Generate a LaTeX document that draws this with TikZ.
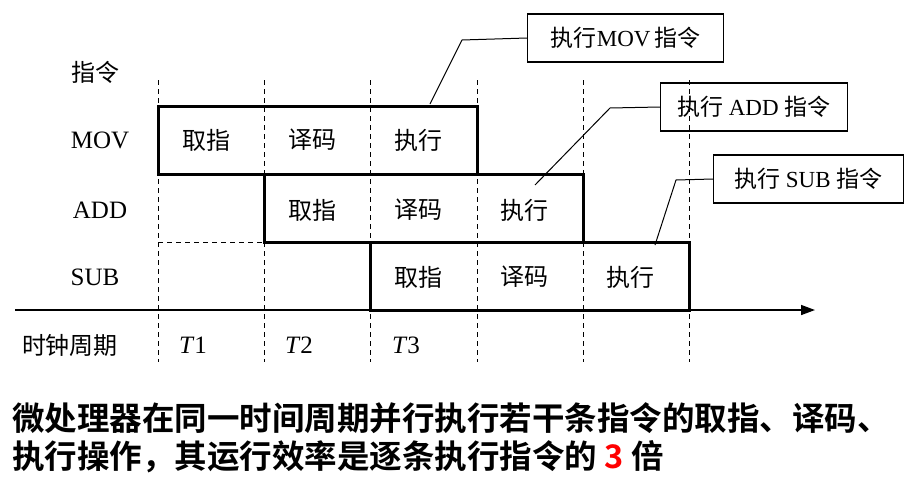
\documentclass[tikz,border=0pt]{standalone}
\usepackage{fontspec}
\setmainfont{Liberation Serif}
\newfontfamily\cjk{Noto Sans CJK SC}
\newfontfamily\cjkb{Noto Sans CJK SC Bold}
\usetikzlibrary{arrows.meta}
\begin{document}
\begin{tikzpicture}[x=1pt,y=-1pt,
  lab/.style={font=\cjk\fontsize{24}{28}\selectfont,inner sep=0pt},
  lat/.style={font=\rmfamily\fontsize{25}{28}\selectfont,inner sep=0pt},
  box/.style={draw,line width=3pt},
  call/.style={draw,line width=1.2pt,font=\cjk\fontsize{23}{26}\selectfont,inner sep=2pt,minimum height=48},
  grid/.style={dash pattern=on 5pt off 4pt,line width=1pt}]
\useasboundingbox (0,0) rectangle (911,482);
\foreach \x in {158,264,370,477,583,689} \draw[grid] (\x,80) -- (\x,362);
\draw[grid] (158,242) -- (264,242);
\draw[box] (158,106) rectangle (477,174);
\draw[box] (264,174) rectangle (583,242);
\draw[box] (370,242) rectangle (689,310);
\draw[line width=1.5pt,-{Triangle[length=14pt,width=10pt]}] (15,310) -- (815,310);
\node[lab] at (95,72) {指令};
\node[lat] at (100,140) {MOV};
\node[lat] at (100,210) {ADD};
\node[lat] at (95,277) {SUB};
\node[lab] at (70,345) {时钟周期};
\node[lat] at (193,345) {\textit{T}1};
\node[lat] at (299,345) {\textit{T}2};
\node[lat] at (406,345) {\textit{T}3};
\foreach \x/\y/\t in {206/140/取指,312/140/译码,418/140/执行,312/210/取指,418/210/译码,524/210/执行,418/277/取指,524/277/译码,630/277/执行}
  \node[lab] at (\x,\y) {\t};
\node[call,anchor=west,minimum width=196] (c1) at (527,38) {执行\rmfamily MOV\,\cjk 指令};
\node[call,anchor=west,minimum width=187] (c2) at (660,107) {执行 \rmfamily ADD \cjk 指令};
\node[call,anchor=west,minimum width=190] (c3) at (713,179) {执行 \rmfamily SUB \cjk 指令};
\coordinate (p1) at (430,104);
\coordinate (p2) at (535,185);
\coordinate (p3) at (655,245);
\draw[line width=1pt] (p1) -- (462,40) -- (c1.west);
\draw[line width=1pt] (p2) -- (610,108) -- (c2.west);
\draw[line width=1pt] (p3) -- (676,180) -- (c3.west);
\node[anchor=west,inner sep=0pt,font=\cjkb\fontsize{32.5}{36}\selectfont] at (12,418) {微处理器在同一时间周期并行执行若干条指令的取指、译码、};
\node[anchor=west,inner sep=0pt,font=\cjkb\fontsize{32.5}{36}\selectfont] at (12,457) {执行操作，其运行效率是逐条执行指令的 \textcolor{red}{3} 倍};
\end{tikzpicture}
\end{document}
